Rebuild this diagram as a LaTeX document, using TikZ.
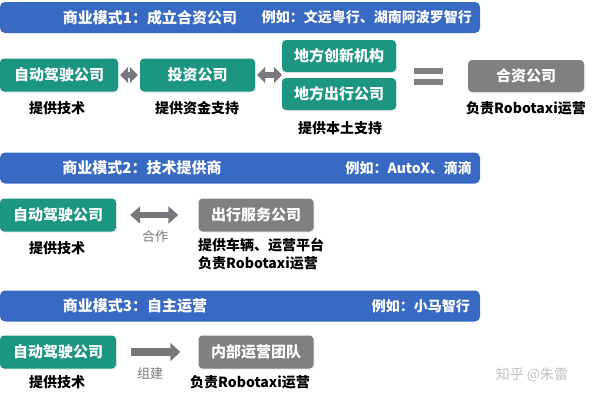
\documentclass[tikz,border=0pt]{standalone}
\usepackage{fontspec}
\setmainfont{Noto Sans CJK SC}
\usetikzlibrary{arrows.meta,shadows}
\definecolor{bannerblue}{RGB}{56,106,196}
\definecolor{boxteal}{RGB}{28,150,128}
\definecolor{boxgray}{RGB}{128,128,128}
\definecolor{arrgray}{RGB}{120,120,124}

\tikzset{
  banner/.style={fill=bannerblue, rounded corners=5pt, minimum width=480pt, minimum height=31pt, inner sep=0pt},
  bantext/.style={text=white, font=\bfseries\fontsize{15}{17}\selectfont},
  example/.style={text=white, anchor=east, inner sep=0pt, font=\bfseries\fontsize{14}{16}\selectfont},
  tealbox/.style={fill=boxteal, text=white, rounded corners=4pt, minimum width=116pt, minimum height=33pt, inner sep=0pt,
    font=\bfseries\fontsize{15}{17}\selectfont, drop shadow={opacity=0.15, shadow xshift=1pt, shadow yshift=-1pt}},
  graybox/.style={tealbox, fill=boxgray},
  note/.style={font=\bfseries\fontsize{14}{16}\selectfont, inner sep=0pt},
  verb/.style={text=arrgray, font=\fontsize{13}{15}\selectfont, inner sep=0pt},
  diam/.style={arrgray, line width=6pt, {Triangle[length=8pt,width=16pt]}-{Triangle[length=8pt,width=16pt]}},
  dbl/.style={arrgray, line width=6pt, {Triangle[length=10pt,width=17pt]}-{Triangle[length=10pt,width=17pt]}},
  fwd/.style={arrgray, line width=8pt, -{Triangle[length=10pt,width=18pt]}}
}

\begin{document}
\begin{tikzpicture}[x=1pt,y=-1pt]
\useasboundingbox[fill=white] (0,0) rectangle (595,400);
% banners
\foreach \y/\n in {17.5/1,168/2,306/3}
\node[banner] (m\n) at (240,\y) {};
\node[bantext] (m1a) at (150,17.5) {商业模式1：成立合资公司};
\node[example] (m1b) at (472,17.5) {例如：文远粤行、湖南阿波罗智行};
\node[bantext] (m2a) at (142,168) {商业模式2：技术提供商};
\node[example] (m2b) at (472,168) {例如：AutoX、滴滴};
\node[bantext] (m3a) at (135,306) {商业模式3：自主运营};
\node[example] (m3b) at (470,306) {例如：小马智行};

% mode 1
\node[tealbox, minimum width=118pt] (a1) at (59,75) {自动驾驶公司};
\node[tealbox, minimum width=115pt] (b1) at (197.5,75) {投资公司};
\node[tealbox, minimum width=114pt, minimum height=32pt] (c1) at (339,56) {地方创新机构};
\node[tealbox, minimum width=114pt, minimum height=32pt] (d1) at (339,94) {地方出行公司};
\node[graybox, minimum height=32pt] (e1) at (526,76) {合资公司};
\coordinate (cd) at (282,75);
\draw[diam, shorten <=2pt, shorten >=2pt] (a1) -- (b1);
\draw[diam, shorten <=2pt, shorten >=0pt] (b1) -- (cd);
\fill[boxgray] (414,68) rectangle (443,74);
\fill[boxgray] (414,79) rectangle (443,85);
\node[note] (a1l) at (57,108) {提供技术};
\node[note] (b1l) at (197,108) {提供资金支持};
\node[note] (d1l) at (340,128) {提供本土支持};
\node[note] (e1l) at (526,108) {负责Robotaxi运营};

% mode 2
\node[tealbox] (a2) at (58,215) {自动驾驶公司};
\node[graybox, minimum width=115pt] (f2) at (256,215) {出行服务公司};
\draw[dbl, shorten <=14pt, shorten >=20pt] (a2) -- (f2);
\node[verb] (v2) at (155,237) {合作};
\node[note] (a2l) at (57,248) {提供技术};
\node[note, anchor=west] (f2l) at (198,245) {提供车辆、运营平台};
\node[note, anchor=west] (f2m) at (198,263) {负责Robotaxi运营};

% mode 3
\node[tealbox] (a3) at (58,352) {自动驾驶公司};
\node[graybox, minimum width=115pt] (g3) at (256,352) {内部运营团队};
\draw[fwd, shorten <=15pt, shorten >=18pt] (a3) -- (g3);
\node[verb] (v3) at (150,374) {组建};
\node[note] (a3l) at (57,382) {提供技术};
\node[note] (g3l) at (250,382) {负责Robotaxi运营};

\node[text=black!25, font=\fontsize{14}{16}\selectfont] (wm) at (532,375) {知乎 @朱雷};
\end{tikzpicture}
\end{document}
